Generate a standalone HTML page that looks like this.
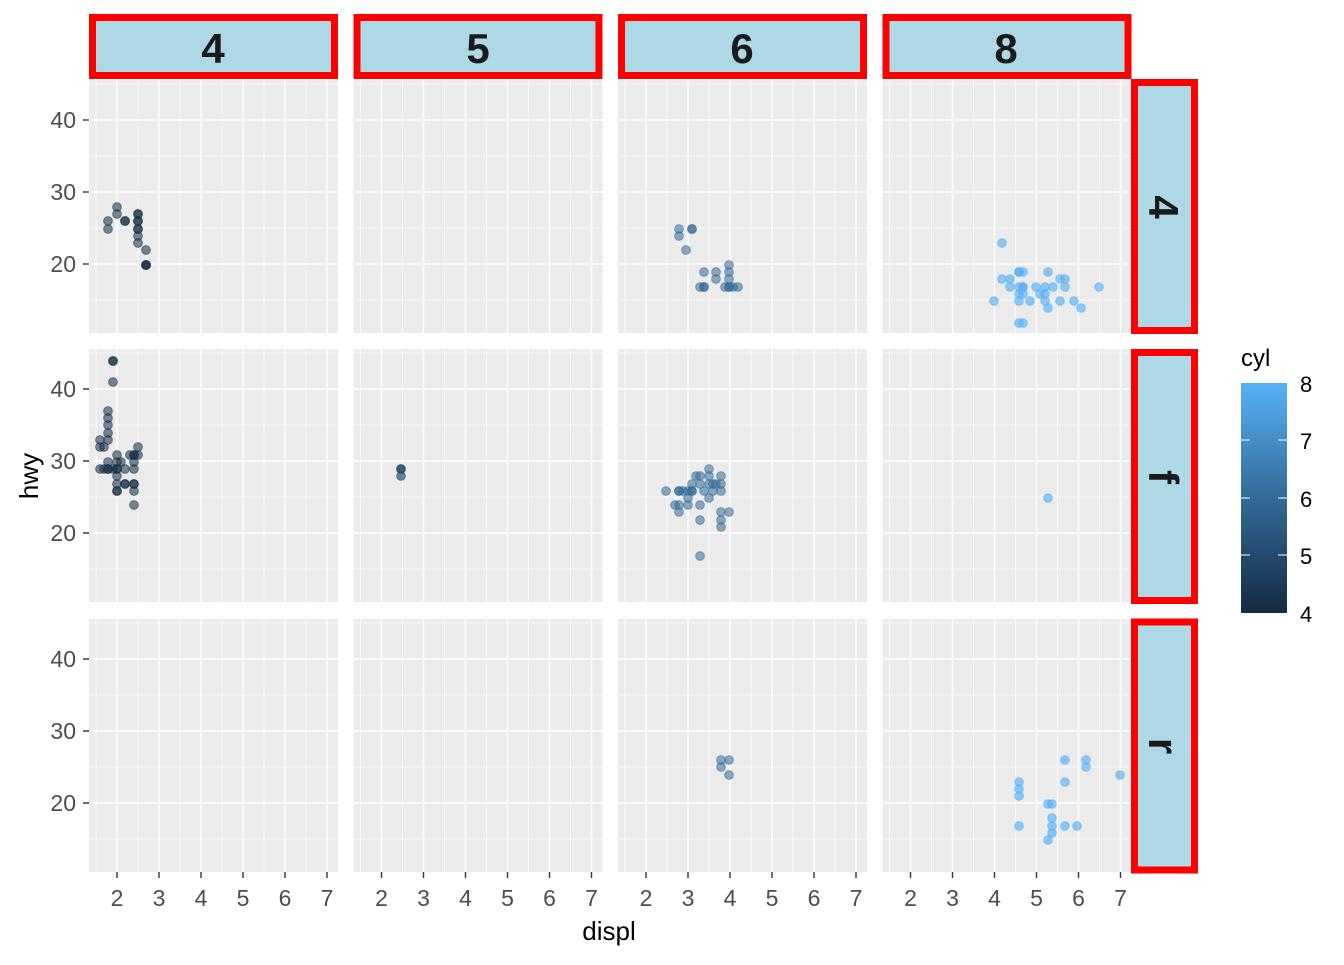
<!DOCTYPE html>
<html><head><meta charset="utf-8"><style>html,body{margin:0;padding:0;background:#fff}circle{r:4.4px}</style></head>
<body>
<svg width="1344" height="960" viewBox="0 0 1344 960" xmlns="http://www.w3.org/2000/svg" font-family="Liberation Sans, Arial, sans-serif">
<defs>
<g id="pn">
<rect x="0" y="0" width="249" height="253" fill="#ebebeb"/>
<g stroke="#fff" stroke-width="0.7">
<line x1="7" y1="0" x2="7" y2="253"/><line x1="49" y1="0" x2="49" y2="253"/><line x1="91" y1="0" x2="91" y2="253"/><line x1="133" y1="0" x2="133" y2="253"/><line x1="175" y1="0" x2="175" y2="253"/><line x1="217" y1="0" x2="217" y2="253"/>
<line x1="0" y1="4" x2="249" y2="4"/><line x1="0" y1="76" x2="249" y2="76"/><line x1="0" y1="148" x2="249" y2="148"/><line x1="0" y1="220" x2="249" y2="220"/>
</g>
<g stroke="#fff" stroke-width="1.4">
<line x1="28" y1="0" x2="28" y2="253"/><line x1="70" y1="0" x2="70" y2="253"/><line x1="112" y1="0" x2="112" y2="253"/><line x1="154" y1="0" x2="154" y2="253"/><line x1="196" y1="0" x2="196" y2="253"/><line x1="238" y1="0" x2="238" y2="253"/>
<line x1="0" y1="40" x2="249" y2="40"/><line x1="0" y1="112" x2="249" y2="112"/><line x1="0" y1="184" x2="249" y2="184"/>
</g>
</g>
<linearGradient id="cg" x1="0" y1="1" x2="0" y2="0">
<stop offset="0" stop-color="#132B43"/><stop offset="0.5" stop-color="#336A98"/><stop offset="1" stop-color="#56B1F7"/>
</linearGradient>
</defs>

<use href="#pn" x="89" y="80"/><use href="#pn" x="353.5" y="80"/><use href="#pn" x="618" y="80"/><use href="#pn" x="882.5" y="80"/>
<use href="#pn" x="89" y="349"/><use href="#pn" x="353.5" y="349"/><use href="#pn" x="618" y="349"/><use href="#pn" x="882.5" y="349"/>
<use href="#pn" x="89" y="619"/><use href="#pn" x="353.5" y="619"/><use href="#pn" x="618" y="619"/><use href="#pn" x="882.5" y="619"/>

<g fill="#add8e6" stroke="#f00" stroke-width="7">
<rect x="92.5" y="17.5" width="242" height="58"/>
<rect x="357" y="17.5" width="242" height="58"/>
<rect x="621.5" y="17.5" width="242" height="58"/>
<rect x="886" y="17.5" width="242" height="58"/>
<rect x="1134.5" y="82.5" width="60" height="248"/>
<rect x="1134.5" y="352.5" width="60" height="248"/>
<rect x="1134.5" y="622" width="60" height="248"/>
</g>
<g font-size="42" font-weight="bold" fill="#1a1a1a" text-anchor="middle">
<text x="213" y="63">4</text><text x="478" y="63">5</text><text x="742" y="63">6</text><text x="1006" y="63">8</text>
<text transform="translate(1149,207) rotate(90)">4</text>
<text transform="translate(1149,477) rotate(90)">f</text>
<text transform="translate(1149,746) rotate(90)">r</text>
</g>

<g stroke="#333" stroke-width="1.4">
<line x1="83" y1="120" x2="89" y2="120"/><line x1="83" y1="192" x2="89" y2="192"/><line x1="83" y1="264" x2="89" y2="264"/>
<line x1="83" y1="389" x2="89" y2="389"/><line x1="83" y1="461" x2="89" y2="461"/><line x1="83" y1="533" x2="89" y2="533"/>
<line x1="83" y1="659" x2="89" y2="659"/><line x1="83" y1="731" x2="89" y2="731"/><line x1="83" y1="803" x2="89" y2="803"/>
</g>
<g font-size="23" fill="#4d4d4d" text-anchor="end">
<text x="76" y="128">40</text><text x="76" y="200">30</text><text x="76" y="272">20</text>
<text x="76" y="397">40</text><text x="76" y="469">30</text><text x="76" y="541">20</text>
<text x="76" y="667">40</text><text x="76" y="739">30</text><text x="76" y="811">20</text>
</g>
<g stroke="#333" stroke-width="1.4">
<line x1="117" y1="872" x2="117" y2="878"/><line x1="159" y1="872" x2="159" y2="878"/><line x1="201" y1="872" x2="201" y2="878"/><line x1="243" y1="872" x2="243" y2="878"/><line x1="285" y1="872" x2="285" y2="878"/><line x1="327" y1="872" x2="327" y2="878"/>
<line x1="381.5" y1="872" x2="381.5" y2="878"/><line x1="423.5" y1="872" x2="423.5" y2="878"/><line x1="465.5" y1="872" x2="465.5" y2="878"/><line x1="507.5" y1="872" x2="507.5" y2="878"/><line x1="549.5" y1="872" x2="549.5" y2="878"/><line x1="591.5" y1="872" x2="591.5" y2="878"/>
<line x1="646" y1="872" x2="646" y2="878"/><line x1="688" y1="872" x2="688" y2="878"/><line x1="730" y1="872" x2="730" y2="878"/><line x1="772" y1="872" x2="772" y2="878"/><line x1="814" y1="872" x2="814" y2="878"/><line x1="856" y1="872" x2="856" y2="878"/>
<line x1="910.5" y1="872" x2="910.5" y2="878"/><line x1="952.5" y1="872" x2="952.5" y2="878"/><line x1="994.5" y1="872" x2="994.5" y2="878"/><line x1="1036.5" y1="872" x2="1036.5" y2="878"/><line x1="1078.5" y1="872" x2="1078.5" y2="878"/><line x1="1120.5" y1="872" x2="1120.5" y2="878"/>
</g>
<g font-size="23" fill="#4d4d4d" text-anchor="middle">
<text x="117" y="906">2</text><text x="159" y="906">3</text><text x="201" y="906">4</text><text x="243" y="906">5</text><text x="285" y="906">6</text><text x="327" y="906">7</text>
<text x="381.5" y="906">2</text><text x="423.5" y="906">3</text><text x="465.5" y="906">4</text><text x="507.5" y="906">5</text><text x="549.5" y="906">6</text><text x="591.5" y="906">7</text>
<text x="646" y="906">2</text><text x="688" y="906">3</text><text x="730" y="906">4</text><text x="772" y="906">5</text><text x="814" y="906">6</text><text x="856" y="906">7</text>
<text x="910.5" y="906">2</text><text x="952.5" y="906">3</text><text x="994.5" y="906">4</text><text x="1036.5" y="906">5</text><text x="1078.5" y="906">6</text><text x="1120.5" y="906">7</text>
</g>
<text x="609" y="940" font-size="26" text-anchor="middle" fill="#000">displ</text>
<text transform="translate(38,476) rotate(-90)" font-size="26" text-anchor="middle" fill="#000">hwy</text>

<g fill="#132B43" fill-opacity="0.55" stroke="#132B43" stroke-opacity="0.5" stroke-width="1">
<circle cx="108" cy="221" r="4.4"/><circle cx="108" cy="229" r="4.4"/><circle cx="117" cy="207" r="4.4"/><circle cx="117" cy="214" r="4.4"/><circle cx="125" cy="221" r="4.4"/><circle cx="125" cy="221" r="4.4"/>
<circle cx="138" cy="214" r="4.4"/><circle cx="138" cy="214" r="4.4"/><circle cx="138" cy="221" r="4.4"/><circle cx="138" cy="221" r="4.4"/><circle cx="138" cy="229" r="4.4"/><circle cx="138" cy="229" r="4.4"/><circle cx="138" cy="236" r="4.4"/><circle cx="138" cy="243" r="4.4"/><circle cx="146" cy="250" r="4.4"/><circle cx="146" cy="265" r="4.4"/><circle cx="146" cy="265" r="4.4"/><circle cx="146" cy="265" r="4.4"/>
<circle cx="113" cy="361" r="4.4"/><circle cx="113" cy="361" r="4.4"/><circle cx="113" cy="382" r="4.4"/><circle cx="108" cy="411" r="4.4"/><circle cx="108" cy="418" r="4.4"/><circle cx="108" cy="425" r="4.4"/><circle cx="108" cy="433" r="4.4"/><circle cx="108" cy="440" r="4.4"/><circle cx="100" cy="440" r="4.4"/><circle cx="100" cy="447" r="4.4"/><circle cx="104" cy="447" r="4.4"/><circle cx="100" cy="469" r="4.4"/><circle cx="108" cy="462" r="4.4"/><circle cx="108" cy="469" r="4.4"/><circle cx="108" cy="469" r="4.4"/><circle cx="117" cy="455" r="4.4"/><circle cx="117" cy="462" r="4.4"/><circle cx="117" cy="469" r="4.4"/><circle cx="117" cy="469" r="4.4"/><circle cx="117" cy="476" r="4.4"/><circle cx="117" cy="484" r="4.4"/><circle cx="117" cy="491" r="4.4"/><circle cx="117" cy="491" r="4.4"/><circle cx="113" cy="469" r="4.4"/><circle cx="125" cy="469" r="4.4"/><circle cx="125" cy="484" r="4.4"/><circle cx="125" cy="484" r="4.4"/><circle cx="130" cy="455" r="4.4"/><circle cx="134" cy="455" r="4.4"/><circle cx="134" cy="455" r="4.4"/><circle cx="134" cy="462" r="4.4"/><circle cx="134" cy="469" r="4.4"/><circle cx="134" cy="484" r="4.4"/><circle cx="134" cy="484" r="4.4"/><circle cx="134" cy="491" r="4.4"/><circle cx="138" cy="447" r="4.4"/><circle cx="138" cy="455" r="4.4"/><circle cx="134" cy="505" r="4.4"/><circle cx="104" cy="469" r="4.4"/><circle cx="121" cy="462" r="4.4"/>
</g>
<g fill="#22496C" fill-opacity="0.65" stroke="#22496C" stroke-opacity="0.5">
<circle cx="401" cy="469" r="4.4"/><circle cx="401" cy="469" r="4.4"/><circle cx="401" cy="476" r="4.4"/>
</g>
<g fill="#336A98" fill-opacity="0.55" stroke="#336A98" stroke-opacity="0.5">
<circle cx="679" cy="229" r="4.4"/><circle cx="679" cy="236" r="4.4"/><circle cx="692" cy="229" r="4.4"/><circle cx="692" cy="229" r="4.4"/><circle cx="686" cy="250" r="4.4"/><circle cx="704" cy="272" r="4.4"/><circle cx="716" cy="272" r="4.4"/><circle cx="716" cy="279" r="4.4"/><circle cx="729" cy="265" r="4.4"/><circle cx="729" cy="272" r="4.4"/><circle cx="729" cy="279" r="4.4"/><circle cx="700" cy="287" r="4.4"/><circle cx="704" cy="287" r="4.4"/><circle cx="704" cy="287" r="4.4"/><circle cx="725" cy="287" r="4.4"/><circle cx="729" cy="287" r="4.4"/><circle cx="733" cy="287" r="4.4"/><circle cx="738" cy="287" r="4.4"/><circle cx="729" cy="287" r="4.4"/>
<circle cx="666" cy="491" r="4.4"/><circle cx="679" cy="491" r="4.4"/><circle cx="683" cy="491" r="4.4"/><circle cx="692" cy="484" r="4.4"/><circle cx="692" cy="491" r="4.4"/><circle cx="688" cy="491" r="4.4"/><circle cx="696" cy="476" r="4.4"/><circle cx="700" cy="476" r="4.4"/><circle cx="700" cy="484" r="4.4"/><circle cx="709" cy="469" r="4.4"/><circle cx="709" cy="476" r="4.4"/><circle cx="709" cy="484" r="4.4"/><circle cx="709" cy="498" r="4.4"/><circle cx="713" cy="491" r="4.4"/><circle cx="721" cy="476" r="4.4"/><circle cx="721" cy="484" r="4.4"/><circle cx="721" cy="491" r="4.4"/><circle cx="716" cy="484" r="4.4"/><circle cx="675" cy="505" r="4.4"/><circle cx="679" cy="505" r="4.4"/><circle cx="679" cy="512" r="4.4"/><circle cx="688" cy="498" r="4.4"/><circle cx="688" cy="505" r="4.4"/><circle cx="700" cy="505" r="4.4"/><circle cx="700" cy="520" r="4.4"/><circle cx="721" cy="512" r="4.4"/><circle cx="721" cy="520" r="4.4"/><circle cx="721" cy="527" r="4.4"/><circle cx="729" cy="512" r="4.4"/><circle cx="700" cy="556" r="4.4"/><circle cx="704" cy="491" r="4.4"/><circle cx="713" cy="484" r="4.4"/><circle cx="679" cy="491" r="4.4"/><circle cx="692" cy="491" r="4.4"/>
<circle cx="721" cy="760" r="4.4"/><circle cx="721" cy="767" r="4.4"/><circle cx="729" cy="760" r="4.4"/><circle cx="729" cy="775" r="4.4"/>
</g>
<g fill="#56B1F7" fill-opacity="0.65" stroke="#56B1F7" stroke-opacity="0.5">
<circle cx="1002" cy="243" r="4.4"/><circle cx="1002" cy="279" r="4.4"/><circle cx="1010" cy="279" r="4.4"/><circle cx="1019" cy="272" r="4.4"/><circle cx="1023" cy="272" r="4.4"/><circle cx="1019" cy="287" r="4.4"/><circle cx="1019" cy="294" r="4.4"/><circle cx="1019" cy="301" r="4.4"/><circle cx="1023" cy="287" r="4.4"/><circle cx="1023" cy="294" r="4.4"/><circle cx="1036" cy="287" r="4.4"/><circle cx="1045" cy="287" r="4.4"/><circle cx="1045" cy="294" r="4.4"/><circle cx="1045" cy="301" r="4.4"/><circle cx="1048" cy="272" r="4.4"/><circle cx="1053" cy="287" r="4.4"/><circle cx="1060" cy="279" r="4.4"/><circle cx="1065" cy="279" r="4.4"/><circle cx="1065" cy="287" r="4.4"/><circle cx="1060" cy="301" r="4.4"/><circle cx="1074" cy="301" r="4.4"/><circle cx="1081" cy="308" r="4.4"/><circle cx="1099" cy="287" r="4.4"/><circle cx="1048" cy="308" r="4.4"/><circle cx="994" cy="301" r="4.4"/><circle cx="1023" cy="323" r="4.4"/><circle cx="1019" cy="323" r="4.4"/><circle cx="1040" cy="294" r="4.4"/><circle cx="1030" cy="301" r="4.4"/><circle cx="1010" cy="287" r="4.4"/><circle cx="1019" cy="272" r="4.4"/><circle cx="1023" cy="287" r="4.4"/>
<circle cx="1048" cy="498" r="4.4"/>
<circle cx="1019" cy="782" r="4.4"/><circle cx="1019" cy="789" r="4.4"/><circle cx="1019" cy="796" r="4.4"/><circle cx="1019" cy="826" r="4.4"/><circle cx="1048" cy="804" r="4.4"/><circle cx="1052" cy="804" r="4.4"/><circle cx="1052" cy="818" r="4.4"/><circle cx="1052" cy="826" r="4.4"/><circle cx="1052" cy="833" r="4.4"/><circle cx="1048" cy="840" r="4.4"/><circle cx="1065" cy="760" r="4.4"/><circle cx="1065" cy="782" r="4.4"/><circle cx="1065" cy="826" r="4.4"/><circle cx="1077" cy="826" r="4.4"/><circle cx="1086" cy="760" r="4.4"/><circle cx="1086" cy="767" r="4.4"/><circle cx="1120" cy="775" r="4.4"/>
</g>

<text x="1241" y="366" font-size="24" fill="#000">cyl</text>
<rect x="1241" y="383" width="46" height="230" fill="url(#cg)"/>
<g stroke="#fff" stroke-width="1">
<line x1="1241" y1="440" x2="1250" y2="440"/><line x1="1278" y1="440" x2="1287" y2="440"/>
<line x1="1241" y1="498" x2="1250" y2="498"/><line x1="1278" y1="498" x2="1287" y2="498"/>
<line x1="1241" y1="555" x2="1250" y2="555"/><line x1="1278" y1="555" x2="1287" y2="555"/>
</g>
<g font-size="22" fill="#000">
<text x="1300" y="392">8</text><text x="1300" y="449">7</text><text x="1300" y="507">6</text><text x="1300" y="564">5</text><text x="1300" y="622">4</text>
</g>
</svg>
</body></html>
